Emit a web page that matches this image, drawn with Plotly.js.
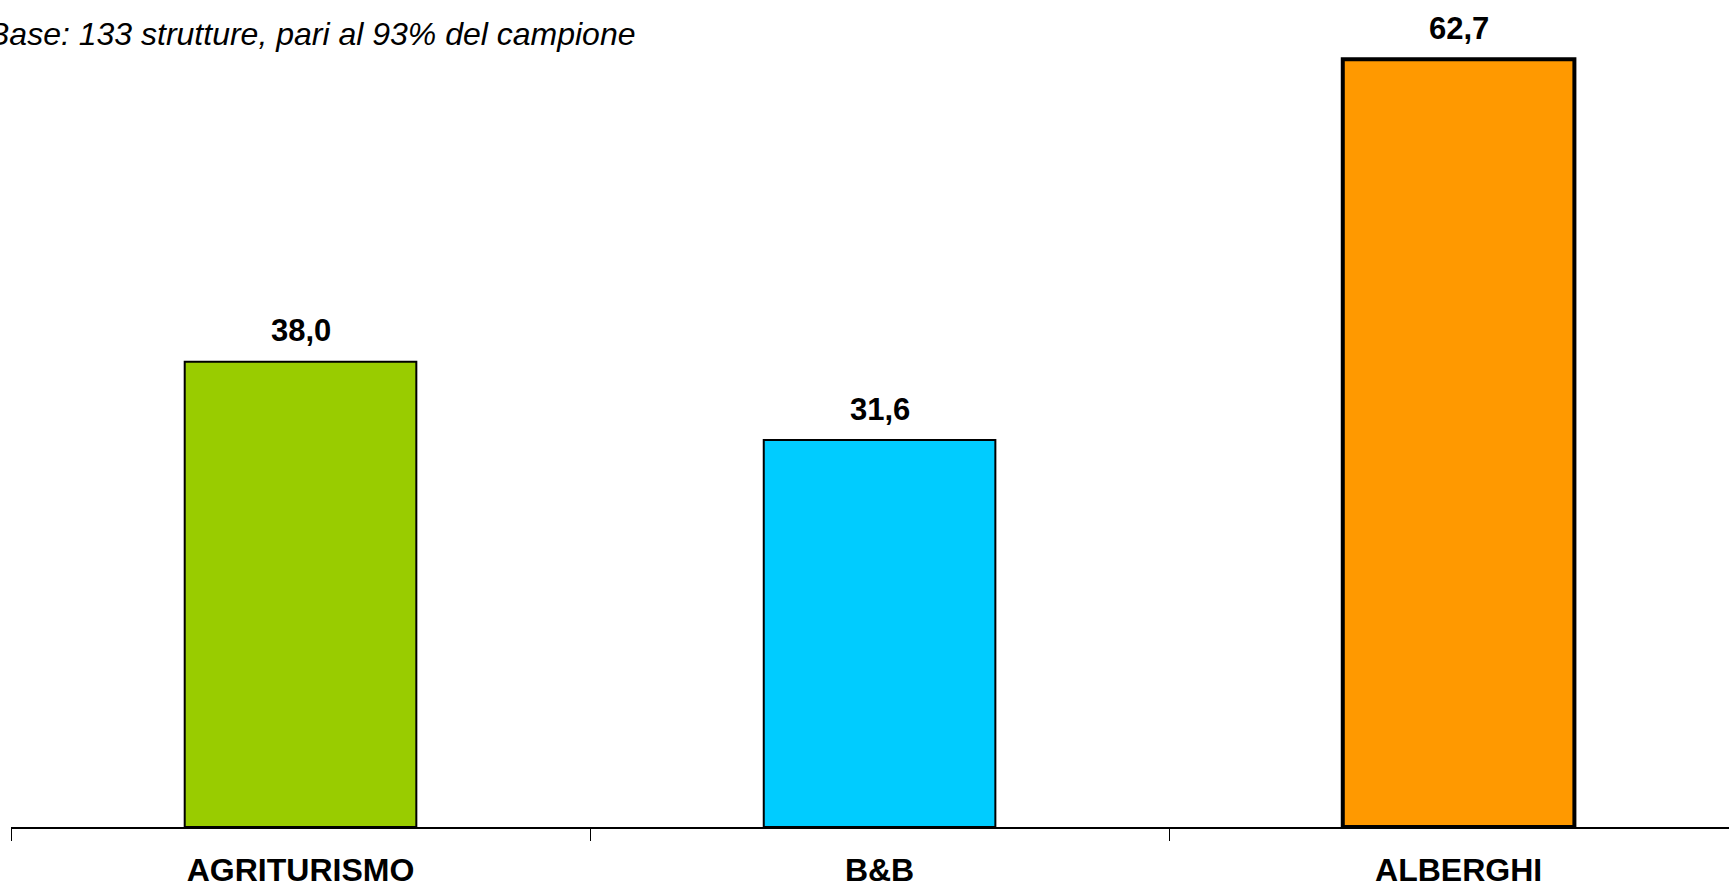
<!DOCTYPE html>
<html>
<head>
<meta charset="utf-8">
<script src="https://cdn.plot.ly/plotly-3.0.1.min.js"></script>
<style>html,body{margin:0;padding:0;background:#fff;}#chart{width:1729px;height:889px;}</style>
</head>
<body>
<div id="chart"></div>
<script>
const categories = ["AGRITURISMO", "B&B", "ALBERGHI"];
const values = [38.0, 31.6, 62.7];
const valueLabels = ["38,0", "31,6", "62,7"];
const barColors = ["#99CC00", "#00CCFF", "#FF9900"];
const subtitle = "Base: 133 strutture, pari al 93% del campione";

const FONT = "Liberation Sans, Arial, sans-serif";

const trace = {
  type: "bar",
  x: categories,
  y: values,
  width: 0.4,
  marker: {color: barColors, line: {color: "#000", width: [2, 2, 4]}},
  hoverinfo: "none"
};

const annotations = categories.map((c, i) => ({
  x: c, y: values[i], xref: "x", yref: "y",
  text: "<b>" + valueLabels[i] + "</b>",
  showarrow: false, yanchor: "middle", yshift: 31,
  font: {family: FONT, size: 31, color: "#000"}
}));
annotations.push({
  xref: "paper", yref: "paper", x: -0.0145, y: 0.996,
  xanchor: "left", yanchor: "middle",
  text: "<i>" + subtitle + "</i>", showarrow: false,
  font: {family: FONT, size: 32, color: "#000"}
});

const layout = {
  width: 1729, height: 889,
  margin: {l: 11, r: 0, t: 31, b: 62},
  paper_bgcolor: "#fff", plot_bgcolor: "#fff",
  showlegend: false,
  xaxis: {
    type: "category", range: [-0.5, 2.467],
    showline: true, linecolor: "#000", linewidth: 1.5,
    ticks: "outside", tickson: "boundaries", ticklen: 12, tickcolor: "#000", tickwidth: 1,
    showgrid: false, zeroline: false,
    tickfont: {family: FONT, size: 32, color: "#000"},
    tickprefix: "<b>", ticksuffix: "</b>",
    ticklabelstandoff: 14
  },
  yaxis: {range: [0, 65], visible: false, showgrid: false, zeroline: false},
  annotations: annotations
};

Plotly.newPlot("chart", [trace], layout, {staticPlot: true, displayModeBar: false});
</script>
</body>
</html>
